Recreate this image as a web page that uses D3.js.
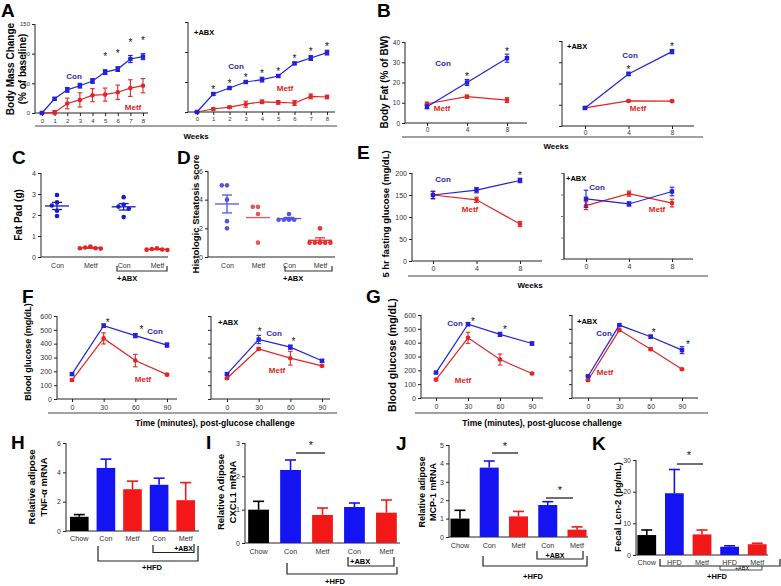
<!DOCTYPE html>
<html><head><meta charset="utf-8">
<script src="https://cdn.jsdelivr.net/npm/d3@7"></script>
<style>body{margin:0;background:#fff}</style>
</head><body>
<script>
// ===== DATA =====
const weeksA = [0,1,2,3,4,5,6,7,8];
const aConMean = [0,24,39,46,54,69,74,91,95];
const aConErr  = [1,2,4,4,4,4,4,6,5];
const aMetfMean = [0,1,16,22,30,31,35,42,46];
const aMetfErr  = [1,3,9,12,11,11,12,14,12];
const aAbxConMean = [0,30,40,50,54,60,81,90,99];
const aAbxConErr  = [1,2,2,2,4,2,2,4,4];
const aAbxMetfMean = [0,5,8,13,17,16,15,26,25];
const aAbxMetfErr  = [1,2,2,5,3,3,4,4,3];
const aStars = [5,6,7,8];
const aAbxStars = [1,2,3,4,5,6,7,8];

const weeksB = [0,4,8];
const bConMean = [8,20,32], bConErr = [1,1.5,2];
const bMetfMean = [9.5,13,11.3], bMetfErr = [0.8,0.8,1.2];
const bAbxConMean = [8.5,24.5,35], bAbxConErr = [0.5,0.8,1];
const bAbxMetfMean = [8.5,11.8,11.7], bAbxMetfErr = [0.4,0.4,0.4];
const bStars = [1,2];

const cCats = ["Con","Metf","Con","Metf"];
const cCon = [2.95,2.6,2.45,2.2,1.95];
const cMetf = [0.5,0.45,0.42,0.42,0.4];
const cAbxCon = [2.85,2.5,2.4,2.3,1.9];
const cAbxMetf = [0.42,0.38,0.36,0.35,0.33];

const dCon = [5,5,4,2.5,2];
const dMetf = [3.5,3.5,3,1];
const dAbxCon = [3,2.6,2.6,2.6,2.6];
const dAbxMetf = [2,1,1,1,1,1];

const eConMean = [150,161,183], eConErr = [8,6,5];
const eMetfMean = [150,139,84], eMetfErr = [9,6,6];
const eAbxConMean = [140,128,157], eAbxConErr = [20,5,10];
const eAbxMetfMean = [124,152,130], eAbxMetfErr = [9,6,9];

const tMin = [0,30,60,90];
const fConMean = [180,530,458,390], fConErr = [8,12,15,15];
const fMetfMean = [137,438,278,176], fMetfErr = [10,40,45,8];
const fAbxConMean = [180,430,375,276], fAbxConErr = [8,30,15,10];
const fAbxMetfMean = [150,362,295,240], fAbxMetfErr = [6,8,50,8];
const gConMean = [184,534,460,394], gConErr = [6,12,15,12];
const gMetfMean = [133,435,278,177], gMetfErr = [8,40,40,8];
const gAbxConMean = [157,527,443,346], gAbxConErr = [5,10,12,25];
const gAbxMetfMean = [128,491,353,208], gAbxMetfErr = [6,8,10,6];

const barCats = ["Chow","Con","Metf","Con","Metf"];
const kCats = ["Chow","HFD","Metf","HFD","Metf"];
const barGroups = ["chow","con","metf","con","metf"];
const hMean = [0.97,4.3,2.85,3.15,2.1], hErr = [0.15,0.6,0.55,0.45,1.2];
const iMean = [1.0,2.19,0.84,1.08,0.91], iErr = [0.25,0.3,0.21,0.12,0.38];
const jMean = [1.0,3.77,1.12,1.74,0.4], jErr = [0.45,0.36,0.27,0.18,0.15];
const kMean = [6.3,19.5,6.5,2.6,3.4], kErr = [1.6,7.5,1.4,0.3,0.3];

// ===== DRAWING =====
const FONT = "'Liberation Sans', Arial, Helvetica, sans-serif";
const BLUE = "#2222dc", RED = "#e22626", LBLUE = "#2b2bb5", LRED = "#e32222";
const BAR = {chow:"#000000", con:"#1414f2", metf:"#f21818"};
const svg = d3.select("body").append("svg").attr("width",781).attr("height",586).style("background","#fff");

function txt(x,y,s,o={}) {
  const t = svg.append("text").attr("x",x).attr("y",y).text(s)
    .attr("font-family",FONT).attr("font-size",o.fs||8)
    .attr("font-weight",o.bold?"bold":"normal")
    .attr("fill",o.fill||"#000").attr("text-anchor",o.anchor||"middle");
  if (o.rot) t.attr("transform",`rotate(-90,${x},${y})`);
  return t;
}
function ln(x1,y1,x2,y2,o={}) {
  svg.append("line").attr("x1",x1).attr("y1",y1).attr("x2",x2).attr("y2",y2)
    .attr("stroke",o.stroke||"#222").attr("stroke-width",o.sw||1);
}
function pl(pts,o={}) {
  svg.append("path").attr("d",d3.line()(pts)).attr("fill","none")
    .attr("stroke",o.stroke||"#222").attr("stroke-width",o.sw||1);
}
function xAxis(scale,y0,ticks,fs,base,labels=true,ts=3,fmt=null) {
  const ax = d3.axisBottom(scale).tickSize(ts).tickPadding(base-y0-ts-0.71*fs);
  if (ticks) ax.tickValues(ticks);
  ax.tickFormat(labels ? (fmt||(d=>d)) : ()=>"");
  const g = svg.append("g").attr("transform",`translate(0,${y0})`).call(ax);
  g.select(".domain").remove();
  g.attr("font-family",FONT).attr("font-size",fs);
  g.selectAll("line").attr("stroke","#222");
  g.selectAll("text").attr("fill","#333");
}
function yAxis(scale,x0,ticks,fs,labels=true,ts=3,stroke="#222",sw=1) {
  const ax = d3.axisLeft(scale).tickValues(ticks).tickSize(ts).tickPadding(2)
    .tickFormat(labels?(d=>d):()=>"");
  const g = svg.append("g").attr("transform",`translate(${x0},0)`).call(ax);
  g.select(".domain").remove();
  g.attr("font-family",FONT).attr("font-size",fs);
  g.selectAll("line").attr("stroke",stroke);
  g.selectAll("text").attr("fill","#333");
  ln(x0, scale(ticks[0]), x0, scale(ticks[ticks.length-1]), {stroke, sw});
}
function series(x,y,xs,m,e,color,shape) {
  pl(xs.map((d,i)=>[x(d),y(m[i])]),{stroke:color,sw:1.2});
  xs.forEach((d,i)=>{
    const cx=x(d);
    ln(cx,y(m[i]-e[i]),cx,y(m[i]+e[i]),{stroke:color,sw:1.1});
    ln(cx-2.3,y(m[i]+e[i]),cx+2.3,y(m[i]+e[i]),{stroke:color,sw:1.1});
    ln(cx-2.3,y(m[i]-e[i]),cx+2.3,y(m[i]-e[i]),{stroke:color,sw:1.1});
    if (shape==="sq") svg.append("rect").attr("x",cx-2.2).attr("y",y(m[i])-2.2).attr("width",4.4).attr("height",4.4).attr("fill",color);
    else svg.append("circle").attr("cx",cx).attr("cy",y(m[i])).attr("r",2.3).attr("fill",color);
  });
}
function stars(x,y,xs,m,e,idx,dy,dx=0,fs=10) {
  idx.forEach(i=>txt(x(xs[i])+dx, y(m[i]+e[i])+dy+0.57*fs, "*", {fs, fill:"#111"}));
}
function linePanel(c) {
  yAxis(c.y, c.axY, c.yTicks, c.fs, c.yLab, 3, c.yStroke||"#222", c.ySw||1);
  ln(c.axY, c.y(0), c.axEnd, c.y(0));
  xAxis(c.x, c.y(0), c.xTicks, c.fs, c.xBase, true);
  series(c.x,c.y,c.xs,c.metf[0],c.metf[1],RED,"c");
  series(c.x,c.y,c.xs,c.con[0],c.con[1],BLUE,"sq");
}

// panel letters
[["A",1,17],["B",377,17],["C",12,164],["D",177,164],["E",357,159],["F",22,303],["G",366,303],["H",11,449],["I",206,449],["J",396,450],["K",592,450]]
  .forEach(([s,x,y])=>txt(x,y,s,{fs:19,bold:true,anchor:"start"}));

// ---- A ----
{
  const x = d3.scaleLinear([0,8],[42,143]), y = d3.scaleLinear([0,150],[113,24]);
  linePanel({x,y,axY:35,axEnd:148,yTicks:[0,50,100,150],xTicks:weeksA,fs:6,yLab:true,xBase:123,xs:weeksA,
    con:[aConMean,aConErr],metf:[aMetfMean,aMetfErr]});
  stars(x,y,weeksA,aConMean,aConErr,aStars,-15);
  txt(74,79,"Con",{fs:8,bold:true,fill:LBLUE});
  txt(133,110,"Metf",{fs:8,bold:true,fill:LRED});
  const x2 = d3.scaleLinear([0,8],[197,327]), y2 = d3.scaleLinear([0,150],[112,22]);
  linePanel({x:x2,y:y2,axY:188,axEnd:335,yTicks:[0,50,100,150],xTicks:weeksA,fs:6,yLab:false,xBase:121,xs:weeksA,
    con:[aAbxConMean,aAbxConErr],metf:[aAbxMetfMean,aAbxMetfErr]});
  stars(x2,y2,weeksA,aAbxConMean,aAbxConErr,aAbxStars,-6);
  txt(194,35,"+ABX",{fs:7.5,bold:true,anchor:"start"});
  txt(236,69,"Con",{fs:8,bold:true,fill:LBLUE});
  txt(285,91,"Metf",{fs:8,bold:true,fill:LRED});
  ln(35,126,337,126,{stroke:"#444"});
  txt(196,139,"Weeks",{fs:8,bold:true});
  txt(14,69,"Body Mass Change",{fs:10,bold:true,rot:true});
  txt(25.5,69,"(% of baseline)",{fs:10,bold:true,rot:true});
}
// ---- B ----
{
  const x = d3.scaleLinear([0,8],[427,507]), y = d3.scaleLinear([0,40],[123,42]);
  linePanel({x,y,axY:405,axEnd:527,yTicks:[0,10,20,30,40],xTicks:weeksB,fs:6.5,yLab:true,xBase:132,xs:weeksB,
    con:[bConMean,bConErr],metf:[bMetfMean,bMetfErr]});
  stars(x,y,weeksB,bConMean,bConErr,bStars,-5);
  txt(443,66,"Con",{fs:8,bold:true,fill:LBLUE});
  txt(442,111,"Metf",{fs:8,bold:true,fill:LRED});
  const x2 = d3.scaleLinear([0,8],[585,672]), y2 = d3.scaleLinear([0,40],[126,41]);
  linePanel({x:x2,y:y2,axY:562,axEnd:694,yTicks:[0,10,20,30,40],xTicks:weeksB,fs:6.5,yLab:false,xBase:135,xs:weeksB,
    con:[bAbxConMean,bAbxConErr],metf:[bAbxMetfMean,bAbxMetfErr]});
  stars(x2,y2,weeksB,bAbxConMean,bAbxConErr,bStars,-5);
  txt(567,49,"+ABX",{fs:7.5,bold:true,anchor:"start"});
  txt(630,58,"Con",{fs:8,bold:true,fill:LBLUE});
  txt(638,111,"Metf",{fs:8,bold:true,fill:LRED});
  ln(402,137,703,137,{stroke:"#444"});
  txt(556,149,"Weeks",{fs:8,bold:true});
  txt(388,82,"Body Fat (% of BW)",{fs:10,bold:true,rot:true});
}
// ---- C & D ----
function swarm(vals,y,step){
  const placed=[];
  return vals.map(v=>{
    const py=y(v);
    for (const k of [0,-1,1,-2,2,-3,3]) {
      const px=k*step;
      if (placed.every(p=>Math.hypot(p[0]-px,p[1]-py)>=step-0.5)) { placed.push([px,py]); return [px,py]; }
    }
    return [0,py];
  });
}
function scatterPanel(c) {
  yAxis(c.y, c.axY, c.yTicks, 7, true);
  ln(c.axY, c.y(0), c.axEnd, c.y(0));
  xAxis(c.x, c.y(0), null, 7, 268, true, 0, i=>cCats[i]);
  c.groups.forEach((g,i)=>{
    const cx=c.x(i);
    swarm(g.vals,c.y,5.2).forEach(p=>svg.append("circle").attr("cx",cx+p[0]).attr("cy",p[1]).attr("r",2.3).attr("fill",g.color));
    const mean=d3.mean(g.vals), sem=d3.deviation(g.vals)/Math.sqrt(g.vals.length);
    ln(cx-12,c.y(mean),cx+12,c.y(mean),{stroke:g.color,sw:1.3});
    if (g.err) {
      ln(cx,c.y(mean-sem),cx,c.y(mean+sem),{stroke:g.color,sw:1.3});
      ln(cx-5,c.y(mean-sem),cx+5,c.y(mean-sem),{stroke:g.color,sw:1.3});
      ln(cx-5,c.y(mean+sem),cx+5,c.y(mean+sem),{stroke:g.color,sw:1.3});
    }
  });
}
{
  const x = d3.scalePoint([0,1,2,3],[57,157]), y = d3.scaleLinear([0,4],[257,173]);
  scatterPanel({x,y,axY:41,axEnd:168,yTicks:[0,1,2,3,4],groups:[
    {vals:cCon,color:"#1a1ad0",err:true},{vals:cMetf,color:"#e82222",err:true},
    {vals:cAbxCon,color:"#1a1ad0",err:true},{vals:cAbxMetf,color:"#e82222",err:true}]});
  pl([[117,266],[117,271],[167,271],[167,266]],{stroke:"#333",sw:1.2});
  txt(117,281,"+ABX",{fs:7.5,bold:true,anchor:"start"});
  txt(22,215,"Fat Pad (g)",{fs:10,bold:true,rot:true});

  const x2 = d3.scalePoint([0,1,2,3],[227,320]), y2 = d3.scaleLinear([0,6],[257,171]);
  scatterPanel({x:x2,y:y2,axY:208,axEnd:335,yTicks:[0,2,4,6],groups:[
    {vals:dCon,color:"#5555e2",err:true},{vals:dMetf,color:"#e85555",err:false},
    {vals:dAbxCon,color:"#5555e2",err:true},{vals:dAbxMetf,color:"#e83030",err:true}]});
  pl([[285,266],[285,271],[332,271],[332,266]],{stroke:"#333",sw:1.2});
  txt(283,281,"+ABX",{fs:7.5,bold:true,anchor:"start"});
  txt(199,214,"Histologic  Steatosis score",{fs:9.5,bold:true,rot:true});
}
// ---- E ----
{
  const x = d3.scaleLinear([0,8],[433,520]), y = d3.scaleLinear([0,200],[261,173]);
  linePanel({x,y,axY:412,axEnd:542,yTicks:[0,50,100,150,200],xTicks:weeksB,fs:7,yLab:true,xBase:271,xs:weeksB,
    con:[eConMean,eConErr],metf:[eMetfMean,eMetfErr]});
  stars(x,y,weeksB,eConMean,eConErr,[2],-5);
  txt(443,182,"Con",{fs:8,bold:true,fill:LBLUE});
  txt(470,212,"Metf",{fs:8,bold:true,fill:LRED});
  const x2 = d3.scaleLinear([0,8],[586,672]), y2 = d3.scaleLinear([0,200],[259,173]);
  linePanel({x:x2,y:y2,axY:564,axEnd:693,yTicks:[0,50,100,150,200],xTicks:weeksB,fs:7,yLab:false,xBase:269,xs:weeksB,
    con:[eAbxConMean,eAbxConErr],metf:[eAbxMetfMean,eAbxMetfErr],yStroke:"#777",ySw:2});
  txt(566,181,"+ABX",{fs:7.5,bold:true,anchor:"start"});
  txt(597,190,"Con",{fs:8,bold:true,fill:LBLUE});
  txt(657,212,"Metf",{fs:8,bold:true,fill:LRED});
  ln(408,276,708,276,{stroke:"#444"});
  txt(530,288,"Weeks",{fs:8,bold:true});
  txt(389,214,"5 hr fasting glucose (mg/dL)",{fs:9.5,bold:true,rot:true});
}
// ---- F ----
{
  const y = d3.scaleLinear([0,600],[399,316]);
  const x = d3.scaleLinear([0,90],[72,167]);
  linePanel({x,y,axY:57,axEnd:177,yTicks:[0,100,200,300,400,500,600],xTicks:tMin,fs:7,yLab:true,xBase:410,xs:tMin,
    con:[fConMean,fConErr],metf:[fMetfMean,fMetfErr]});
  stars(x,y,tMin,fConMean,fConErr,[1],-4,4);
  stars(x,y,tMin,fConMean,fConErr,[2],-6,6);
  txt(155,334,"Con",{fs:8,bold:true,fill:LBLUE});
  txt(143,382,"Metf",{fs:8,bold:true,fill:LRED});
  const x2 = d3.scaleLinear([0,90],[227,322]);
  linePanel({x:x2,y,axY:211,axEnd:330,yTicks:[0,100,200,300,400,500,600],xTicks:tMin,fs:7,yLab:false,xBase:410,xs:tMin,
    con:[fAbxConMean,fAbxConErr],metf:[fAbxMetfMean,fAbxMetfErr]});
  stars(x2,y,tMin,fAbxConMean,fAbxConErr,[1],-6,1);
  stars(x2,y,tMin,fAbxConMean,fAbxConErr,[2],-6,3);
  txt(218,325,"+ABX",{fs:7.5,bold:true,anchor:"start"});
  txt(274,336,"Con",{fs:8,bold:true,fill:LBLUE});
  txt(277,373,"Metf",{fs:8,bold:true,fill:LRED});
  ln(48,413,337,413,{stroke:"#444"});
  txt(215,426,"Time (minutes), post-glucose challenge",{fs:8.5,bold:true});
  txt(31,352,"Blood glucose (mg/dL)",{fs:9,bold:true,rot:true});
}
// ---- G ----
{
  const y = d3.scaleLinear([0,600],[398,315]);
  const x = d3.scaleLinear([0,90],[436,532]);
  linePanel({x,y,axY:421,axEnd:543,yTicks:[0,100,200,300,400,500,600],xTicks:tMin,fs:7,yLab:true,xBase:409,xs:tMin,
    con:[gConMean,gConErr],metf:[gMetfMean,gMetfErr]});
  stars(x,y,tMin,gConMean,gConErr,[1],-3,5);
  stars(x,y,tMin,gConMean,gConErr,[2],-5,5);
  txt(455,326,"Con",{fs:8,bold:true,fill:LBLUE});
  txt(463,383,"Metf",{fs:8,bold:true,fill:LRED});
  const x2 = d3.scaleLinear([0,90],[588,682]);
  linePanel({x:x2,y,axY:572,axEnd:698,yTicks:[0,100,200,300,400,500,600],xTicks:tMin,fs:7,yLab:false,xBase:409,xs:tMin,
    con:[gAbxConMean,gAbxConErr],metf:[gAbxMetfMean,gAbxMetfErr]});
  stars(x2,y,tMin,gAbxConMean,gAbxConErr,[2],-5,3);
  stars(x2,y,tMin,gAbxConMean,gAbxConErr,[3],-4,6);
  txt(577,324,"+ABX",{fs:7.5,bold:true,anchor:"start"});
  txt(604,336,"Con",{fs:8,bold:true,fill:LBLUE});
  txt(605,375,"Metf",{fs:8,bold:true,fill:LRED});
  ln(415,413,708,413,{stroke:"#444"});
  txt(542,426,"Time (minutes), post-glucose challenge",{fs:8.5,bold:true});
  txt(396,355,"Blood glucose (mg/dL)",{fs:10.5,bold:true,rot:true});
}
// ---- bar panels ----
function barPanel(c) {
  yAxis(c.y, c.axY, c.yTicks, 7, true);
  ln(c.axY, c.y(0), c.axEnd, c.y(0));
  xAxis(c.x, c.y(0), null, 7.2, c.xBase, true, 0, i=>c.cats[i]);
  c.mean.forEach((m,i)=>{
    const col = BAR[barGroups[i]], bx=c.x(i), bw=c.x.bandwidth(), cx=bx+bw/2;
    svg.append("rect").attr("x",bx).attr("y",c.y(m)).attr("width",bw).attr("height",c.y(0)-c.y(m)).attr("fill",col);
    ln(cx,c.y(m),cx,c.y(m+c.err[i]),{stroke:col,sw:1.6});
    ln(cx-5.5,c.y(m+c.err[i]),cx+5.5,c.y(m+c.err[i]),{stroke:col,sw:1.6});
  });
}
function sig(x1,x2,y,cx,sy){ ln(x1,y,x2,y,{stroke:"#111",sw:1.2}); txt(cx,sy+6,"*",{fs:11,fill:"#111"}); }
{
  const y = d3.scaleLinear([0,6],[531,443]);
  const x = d3.scaleBand(d3.range(5),[66,199]).paddingInner(0.3).paddingOuter(0.15);
  barPanel({x,y,axY:66,axEnd:199,yTicks:[0,2,4,6],mean:hMean,err:hErr,cats:barCats,xBase:541});
  pl([[153,545],[153,552.5],[194,552.5],[194,544]],{stroke:"#222",sw:1.2});
  txt(193,550.5,"+ABX",{fs:7,bold:true,anchor:"end"});
  pl([[98,546],[98,561],[198,561],[198,546]],{stroke:"#222",sw:1.2});
  txt(152,570,"+HFD",{fs:7.5,bold:true});
  txt(35,487,"Relative adipose",{fs:9.5,bold:true,rot:true});
  txt(47,487,"TNF-\u03B1 mRNA",{fs:9.5,bold:true,rot:true});
}
{
  const y = d3.scaleLinear([0,3],[543,443]);
  const x = d3.scaleBand(d3.range(5),[245,400]).paddingInner(0.35).paddingOuter(0.1);
  barPanel({x,y,axY:245,axEnd:400,yTicks:[0,1,2,3],mean:iMean,err:iErr,cats:barCats,xBase:554});
  sig(296,325,453,311,443);
  pl([[348,557],[348,566],[394,566],[394,557]],{stroke:"#222",sw:1.2});
  txt(350,564,"+ABX",{fs:7.5,bold:true,anchor:"start"});
  pl([[287,563],[287,574],[397,574],[397,567]],{stroke:"#222",sw:1.2});
  txt(335,584,"+HFD",{fs:7.5,bold:true});
  txt(224,492,"Relative Adipose",{fs:9.5,bold:true,rot:true});
  txt(236,492,"CXCL1 mRNA",{fs:9.5,bold:true,rot:true});
}
{
  const y = d3.scaleLinear([0,5],[537,445]);
  const x = d3.scaleBand(d3.range(5),[449,588]).paddingInner(0.35).paddingOuter(0.05);
  barPanel({x,y,axY:449,axEnd:588,yTicks:[0,1,2,3,4,5],mean:jMean,err:jErr,cats:barCats,xBase:548});
  sig(492,518,453,505,444);
  sig(546,573,498,560,488);
  pl([[537,551],[537,559],[583,559],[583,551]],{stroke:"#222",sw:1.2});
  txt(555,557.5,"+ABX",{fs:7,bold:true});
  pl([[483,556],[483,566],[587,566],[587,556]],{stroke:"#222",sw:1.2});
  txt(533,579,"+HFD",{fs:7.5,bold:true});
  txt(425,492,"Relative adipose",{fs:9,bold:true,rot:true});
  txt(436,492,"MCP-1 mRNA",{fs:9,bold:true,rot:true});
}
{
  const y = d3.scaleLinear([0,30],[555,460]);
  const x = d3.scaleBand(d3.range(5),[636,768]).paddingInner(0.32).paddingOuter(0.05);
  barPanel({x,y,axY:636,axEnd:768,yTicks:[0,10,20,30],mean:kMean,err:kErr,cats:kCats,xBase:565});
  sig(677,703,464,689,453);
  pl([[660,559],[660,566],[780,566],[780,559]],{stroke:"#222",sw:1.2});
  pl([[720,566],[720,570],[762,570],[762,566]],{stroke:"#222",sw:0.8});
  txt(742,569.5,"+ABX",{fs:5.5});
  txt(717,579,"+HFD",{fs:7.5,bold:true});
  txt(621,507,"Fecal Lcn-2 (pg/mL)",{fs:9.5,bold:true,rot:true});
}
</script>
</body></html>
